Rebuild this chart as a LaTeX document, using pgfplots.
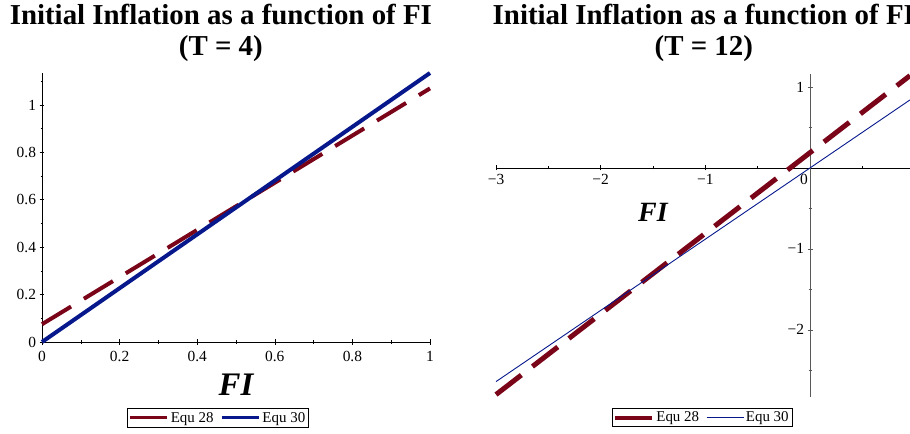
\documentclass[border=0pt]{standalone}
\usepackage{pgfplots}
\pgfplotsset{compat=1.18}
\usepackage{fontspec}
\setmainfont{Liberation Serif}
\definecolor{eqred}{RGB}{122,4,24}
\definecolor{eqblue}{RGB}{6,24,140}
\pgfplotsset{
  common/.style={
    scale only axis, clip=false,
    /pgf/number format/assume math mode=true,
    tick align=outside, major tick length=5bp, minor tick length=3bp,
    ticklabel style={font=\fontsize{15.5}{17}\selectfont},
    title style={anchor=north, inner sep=0pt, align=center, font=\bfseries\fontsize{29}{31}\selectfont},
    legend columns=2,
    legend image code/.code={\draw[##1] (0bp,0bp) -- (37bp,0bp);},
  }
}
\begin{document}
\begin{tikzpicture}
\begin{axis}[common,
  at={(42bp,92bp)}, anchor=south west,
  width=388bp, height=269bp,
  xmin=0, xmax=1, ymin=0, ymax=1.135,
  axis lines=left, axis line style={-, black, line width=0.8pt},
  tick style={black, line width=0.6pt},
  xtick={0,0.2,0.4,0.6,0.8,1}, xticklabels={0,0.2,0.4,0.6,0.8,1},
  xticklabel style={yshift=-3bp},
  minor xtick={0.1,0.3,0.5,0.7,0.9},
  ytick={0,0.2,0.4,0.6,0.8,1}, yticklabels={0,0.2,0.4,0.6,0.8,1},
  minor ytick={0.1,0.3,0.5,0.7,0.9,1.1},
  title={Initial Inflation as a function of FI\\(T = 4)},
  title style={at={(0.461,1.2342)}},
  xlabel={FI},
  xlabel style={at={(0.5,-0.158)}, anchor=center, font=\bfseries\itshape\fontsize{33}{36}\selectfont},
  legend style={at={(0.4536,-0.2825)}, anchor=center, draw=black, line width=0.6pt,
    font=\fontsize{15}{17}\selectfont, inner sep=1.5bp,
    /tikz/every even column/.append style={column sep=5bp}},
]
\addlegendimage{eqred, solid, line width=3bp}
\addlegendimage{eqblue, solid, line width=3bp}
\addplot[eqred, line width=4bp, dash pattern=on 34bp off 15bp, forget plot] coordinates {(0,0.075) (1,1.07)};
\addplot[eqblue, line width=4bp, forget plot] coordinates {(0,0) (1,1.135)};
\legend{Equ 28, Equ 30}
\end{axis}

\begin{axis}[common,
  at={(496bp,37bp)}, anchor=south west,
  width=414bp, height=323bp,
  xmin=-3, xmax=0.955, ymin=-2.83, ymax=1.16,
  axis lines=middle, axis line style={-, line width=0.8pt},
  x axis line style={black}, y axis line style={black!65},
  xtick style={black, line width=0.6pt}, ytick style={black!65, line width=0.6pt},
  hide obscured x ticks=false, hide obscured y ticks=false,
  xtick={-3,-2,-1,0}, xticklabels={−3,−2,−1,\hspace*{-12bp}0},
  minor xtick={-2.5,-1.5,-0.5,0.5},
  ytick={-2,-1,1}, yticklabels={−2,−1,1},
  minor ytick={-2.5,-1.5,-0.5,0.5},
  title={Initial Inflation as a function of FI\\(T = 12)},
  title style={at={(0.502,1.1981)}},
  xlabel={FI},
  xlabel style={at={(0.379,0.573)}, anchor=center, font=\bfseries\itshape\fontsize{28}{30}\selectfont},
  legend style={at={(0.4976,-0.0635)}, anchor=center, draw=black, line width=0.6pt,
    font=\fontsize{15}{17}\selectfont, inner sep=1.5bp,
    /tikz/every even column/.append style={column sep=5bp}},
]
\addlegendimage{eqred, solid, line width=4bp}
\addlegendimage{eqblue, solid, line width=0.8bp}
\addplot[eqred, line width=5bp, dash pattern=on 32bp off 14bp, forget plot] coordinates {(-3,-2.8) (0.955,1.14)};
\addplot[eqblue, line width=0.9bp, forget plot] coordinates {(-3,-2.64) (0.955,0.84)};
\legend{Equ 28, Equ 30}
\end{axis}
\pgfresetboundingbox
\useasboundingbox (0,0) rectangle (910bp,434bp);
\end{tikzpicture}
\end{document}
